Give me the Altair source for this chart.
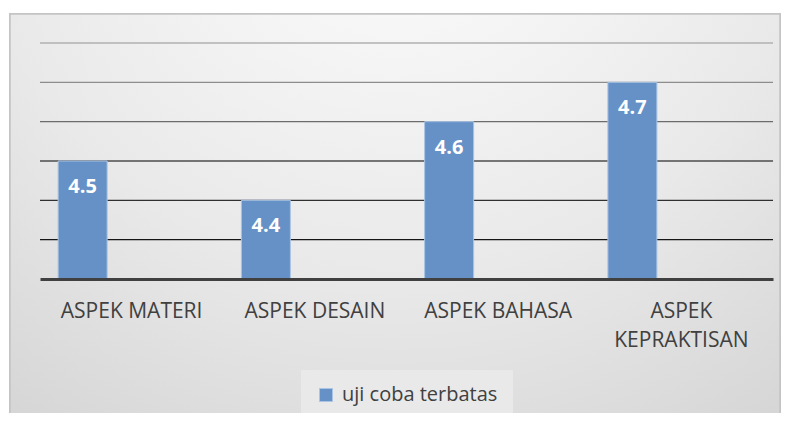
import altair as alt
import pandas as pd

categories = ["ASPEK MATERI", "ASPEK DESAIN", "ASPEK BAHASA", "ASPEK KEPRAKTISAN"]
values = [4.5, 4.4, 4.6, 4.7]
series_name = "uji coba terbatas"
grid_values = [4.3, 4.4, 4.5, 4.6, 4.7, 4.8]
y_min, y_max = 4.2, 4.8

df = pd.DataFrame({"aspek": categories, "nilai": values, "series": [series_name] * len(values)})
grid_df = pd.DataFrame({"g": grid_values})

FONT = "Open Sans"
TXT = "#404040"
BAR = "#6591c7"

x_enc = alt.X(
    "aspek:N",
    sort=categories,
    scale=alt.Scale(paddingInner=0, paddingOuter=0),
    axis=alt.Axis(
        title=None, ticks=False, labelAngle=0, labelFont=FONT, labelFontSize=21,
        labelColor=TXT, labelPadding=21, labelBaseline="top", labelLineHeight=29,
        labelExpr="length(datum.label) > 14 ? split(datum.label, ' ') : datum.label",
        domainColor="#404040", domainWidth=3, grid=False, labelLimit=300, zindex=2,
    ),
)
y_scale = alt.Scale(domain=[y_min, y_max], zero=False, nice=False)
xoff = alt.XOffset(
    "series:N",
    scale=alt.Scale(domain=[series_name, "_b", "_c"], paddingInner=0, paddingOuter=0.37),
)

bg = alt.Chart(df).mark_rect(
    color=alt.RadialGradient(
        gradient="radial",
        stops=[
            alt.GradientStop(offset=0, color="#ffffff"),
            alt.GradientStop(offset=0.55, color="#e9e9e9"),
            alt.GradientStop(offset=1, color="#cfcfcf"),
        ],
        x1=0.5, y1=0, r1=0, x2=0.5, y2=0, r2=1.0,
    ),
    stroke="#c4c4c4", strokeWidth=1.5,
).encode(x=alt.value(-30), x2=alt.value(740), y=alt.value(-29), y2=alt.value(420))

grid = alt.Chart(grid_df).mark_rule(strokeWidth=1.3).encode(
    y=alt.Y("g:Q", scale=y_scale, axis=None),
    color=alt.Color("g:Q", scale=alt.Scale(domain=[4.3, 4.8], range=["#151515", "#b0b0b0"]), legend=None),
)

bars = alt.Chart(df).mark_bar(stroke="#a9c4e4", strokeWidth=1).encode(
    x=x_enc,
    xOffset=xoff,
    y=alt.Y("nilai:Q", scale=y_scale, axis=None),
    y2=alt.datum(y_min),
    color=alt.Color(
        "series:N",
        scale=alt.Scale(domain=[series_name], range=[BAR]),
        legend=alt.Legend(
            title=None, orient="none", legendX=261, legendY=327, symbolType="square",
            symbolSize=169, symbolStrokeColor="#a9c4e4", symbolStrokeWidth=1,
            labelFont=FONT, labelFontSize=20, labelColor=TXT, fillColor="#e9e9e9",
            padding=15, symbolOffset=0, labelOffset=6,
        ),
    ),
)

labels = alt.Chart(df).mark_text(
    font=FONT, fontSize=20, fontWeight="bold", color="white", baseline="middle", dy=26
).encode(
    x=x_enc,
    xOffset=xoff,
    y=alt.Y("nilai:Q", scale=y_scale, axis=None),
    text=alt.Text("nilai:Q", format=".1f"),
)

chart = (
    alt.layer(bg, grid, bars, labels)
    .resolve_scale(color="independent")
    .properties(
        width=733, height=236, autosize="none",
        padding={"left": 32, "top": 35, "right": 8, "bottom": 134},
    )
    .configure_view(stroke=None)
    .configure(background="white")
)

chart.save("out.html", embed_options={"renderer": "svg", "actions": False})
